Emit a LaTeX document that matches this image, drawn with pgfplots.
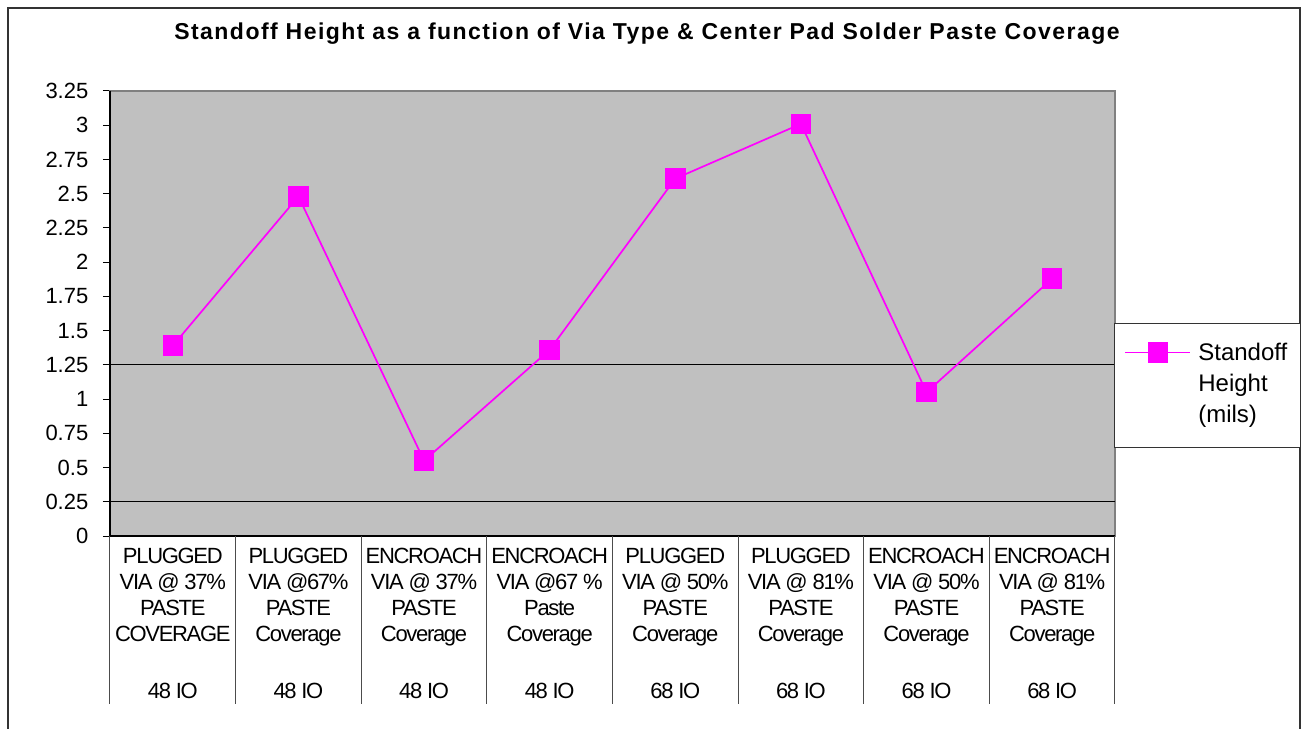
\documentclass[border=0pt]{standalone}
\usepackage{pgfplots}
\pgfplotsset{compat=1.18}
\usepackage{fontspec}
\setmainfont{Liberation Sans}
\definecolor{plotbg}{RGB}{192,192,192}
\definecolor{mag}{RGB}{255,0,255}
\begin{document}
\begin{tikzpicture}
\path[use as bounding box] (-55pt,-96pt) rectangle (598pt,268pt);
\fill[white] (-55pt,-96pt) rectangle (598pt,268pt);
\draw[black!80, line width=0.8pt] (-51pt,-100pt) -- (-51pt,264pt) -- (595pt,264pt) -- (595pt,-100pt);
\node[font=\bfseries\fontsize{11.5}{14}\selectfont\addfontfeature{LetterSpace=6.4}] at (268.5pt,251pt) {Standoff Height as a function of Via Type \& Center Pad Solder Paste Coverage};
\begin{axis}[
  at={(0pt,0pt)}, anchor=south west,
  scale only axis, width=502.5pt, height=222.5pt,
  xmin=-0.5, xmax=7.5, ymin=0, ymax=3.25,
  clip=false,
  axis background/.style={fill=plotbg},
  axis line style={draw=black!50, line width=0.8pt},
  tick align=outside, major tick length=3.5pt,
  ytick pos=left,
  xtick={0,1,2,3,4,5,6,7},
  xtick style={draw=none},
  ytick={0,0.25,0.5,0.75,1,1.25,1.5,1.75,2,2.25,2.5,2.75,3,3.25},
  yticklabels={0,0.25,0.5,0.75,1,1.25,1.5,1.75,2,2.25,2.5,2.75,3,3.25},
  ytick style={draw=black, line width=0.5pt},
  yticklabel style={font=\fontsize{11}{13}\selectfont, xshift=-3.8pt},
  xticklabel style={font=\fontsize{11}{13}\selectfont\addfontfeature{LetterSpace=-6}, align=center, anchor=north, inner sep=0pt, yshift=-2.5pt},
  xticklabels={
    {PLUGGED\\VIA @ 37\%\\PASTE\\COVERAGE\\[15.5pt]48 IO},
    {PLUGGED\\VIA @67\%\\PASTE\\Coverage\\[15.5pt]48 IO},
    {ENCROACH\\VIA @ 37\%\\PASTE\\Coverage\\[15.5pt]48 IO},
    {ENCROACH\\VIA @67 \%\\Paste\\Coverage\\[15.5pt]48 IO},
    {PLUGGED\\VIA @ 50\%\\PASTE\\Coverage\\[15.5pt]68 IO},
    {PLUGGED\\VIA @ 81\%\\PASTE\\Coverage\\[15.5pt]68 IO},
    {ENCROACH\\VIA @ 50\%\\PASTE\\Coverage\\[15.5pt]68 IO},
    {ENCROACH\\VIA @ 81\%\\PASTE\\Coverage\\[15.5pt]68 IO}},
  extra y ticks={0.25,1.25},
  extra y tick labels={},
  extra y tick style={grid=major, major grid style={black, line width=0.5pt}, tick style={draw=none}},
  /pgf/number format/assume math mode=true,
  legend style={at={(axis description cs:0.999,0.4787)}, anchor=north west,
    draw=black!80, line width=0.5pt, fill=white, inner xsep=0pt, inner ysep=9.5pt,
    font=\fontsize{12}{15.5}\selectfont, column sep=3.5pt,
    nodes={inner sep=0pt, text width=51pt, align=left, text height=9pt, text depth=34pt}},
  legend cell align=left,
  legend image code/.code={
    \path[draw=none, fill=none] (0pt,0pt) rectangle (38pt,0pt);
    \draw[mark repeat=2, mark phase=2] plot coordinates {(5.5pt,16.5pt) (21.75pt,16.5pt) (38pt,16.5pt)};
  },
]
\addplot[mag, line width=0.85pt, mark=square*, mark size=4.7pt, mark options={fill=mag, draw=mag}]
  coordinates {(0,1.39) (1,2.48) (2,0.55) (3,1.36) (4,2.61) (5,3.01) (6,1.05) (7,1.88)};
\addlegendentry{Standoff\\Height\\(mils)}
\draw[black, line width=0.6pt] (rel axis cs:0,1) -- (rel axis cs:0,0) -- (rel axis cs:1,0);
\pgfplotsinvokeforeach{-0.5,0.5,1.5,2.5,3.5,4.5,5.5,6.5,7.5}{
  \draw[black!70, line width=0.5pt] (axis cs:#1,0) -- ++(0pt,-84pt);
}
\end{axis}
\end{tikzpicture}
\end{document}
